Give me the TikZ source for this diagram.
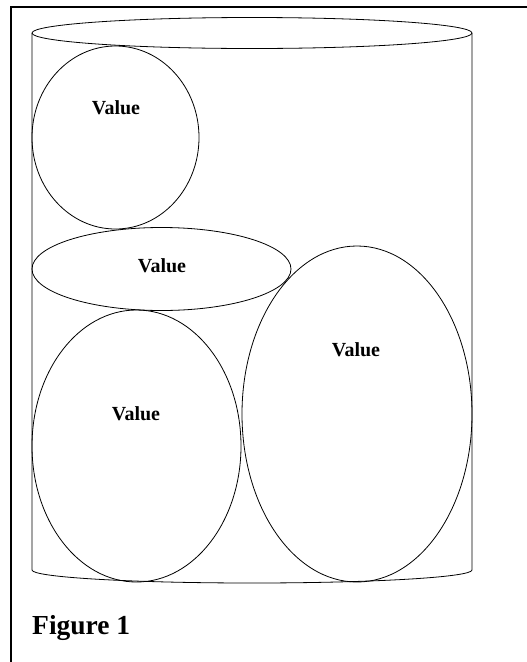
\documentclass[tikz,border=0pt]{standalone}
\usepackage{fontspec}
\setmainfont{Liberation Serif}
\usetikzlibrary{shapes}
\tikzstyle{blob} = [ellipse, draw=black, line width=0.8pt, inner sep=0pt]
\tikzstyle{value} = [font=\fontsize{20}{24}\selectfont\bfseries, text=black]
\tikzstyle{caption} = [font=\fontsize{27.5}{32}\selectfont\bfseries, anchor=base west, inner sep=0pt]

\begin{document}
\begin{tikzpicture}[x=1pt, y=-1pt]
\useasboundingbox (0,0) rectangle (527,662);

% frame
\draw [line width=1.5pt] (11,662) -- (11,7) -- (527,7);

% cylinder
\draw [line width=0.8pt] (252,33) ellipse [x radius=220, y radius=15.5];
\draw [line width=0.8pt] (32,33) -- (32,570) arc [start angle=180, end angle=0, x radius=220, y radius=13] -- (472,33);

% values
\node (a) [blob, minimum width=167pt, minimum height=183pt] at (115.5,137.5) {};
\node (b) [blob, minimum width=259pt, minimum height=83pt] at (161.5,269) {};
\node (c) [blob, minimum width=209pt, minimum height=272pt] at (136.5,446) {};
\node (d) [blob, minimum width=230pt, minimum height=336pt] at (357,414) {};

\node (ta) [value] at (116,108) {Value};
\node (tb) [value] at (162,266) {Value};
\node (tc) [value] at (136,414) {Value};
\node (td) [value] at (356,350) {Value};

\node (fig) [caption] at (32,634) {Figure 1};

\end{tikzpicture}
\end{document}
